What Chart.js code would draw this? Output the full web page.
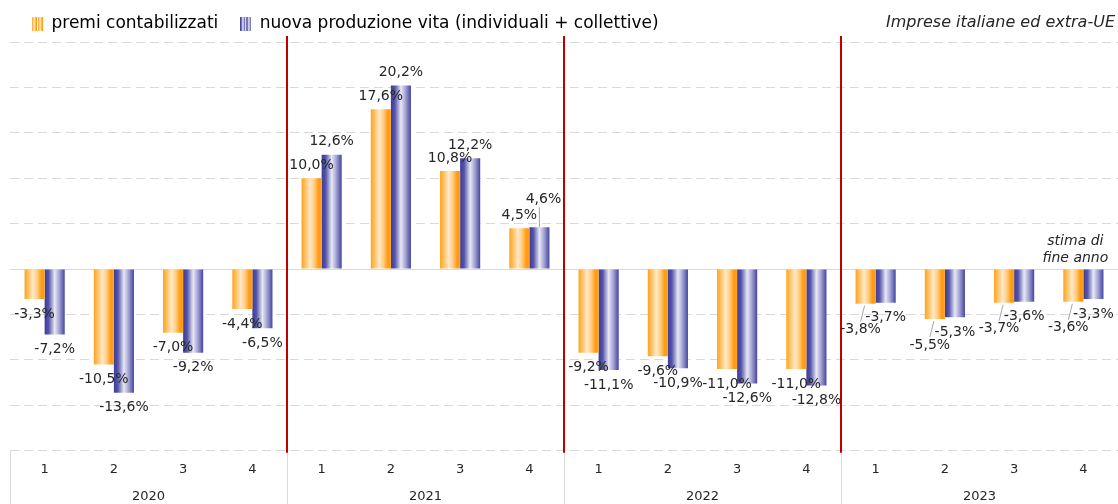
<!DOCTYPE html>
<html>
<head>
<meta charset="utf-8">
<script src="https://cdn.jsdelivr.net/npm/chart.js@4"></script>
<style>
  body { margin: 0; background: #fff; }
  #wrap { width: 1118px; height: 504px; position: relative; }
</style>
</head>
<body>
<div id="wrap"><canvas id="chart"></canvas></div>
<script>
const quarters = ['1', '2', '3', '4', '1', '2', '3', '4', '1', '2', '3', '4', '1', '2', '3', '4'];
const years = ['2020', '2021', '2022', '2023'];
const premi = [-3.3, -10.5, -7.0, -4.4, 10.0, 17.6, 10.8, 4.5, -9.2, -9.6, -11.0, -11.0, -3.8, -5.5, -3.7, -3.6];
const nuova = [-7.2, -13.6, -9.2, -6.5, 12.6, 20.2, 12.2, 4.6, -11.1, -10.9, -12.6, -12.8, -3.7, -5.3, -3.6, -3.3];

const catPct = 0.58;
const FONT = 'DejaVu Sans';
const orange = {
  base: '#ffa01e',
  stops: [[0, '#ffa31f'], [0.15, '#ffba52'], [0.42, '#ffe9c8'], [0.62, '#ffcf88'], [0.85, '#ff9a10'], [1, '#ffa01e']]
};
const blue = {
  base: '#40409c',
  stops: [[0, '#3c3c98'], [0.2, '#5454aa'], [0.5, '#e8e8f5'], [0.72, '#a6a6d4'], [1, '#4444a0']]
};

function barFill(ctx, col) {
  if (ctx.type !== 'data') return col.base;
  const chart = ctx.chart;
  const xs = chart.scales.x;
  if (!xs || !chart.chartArea) return col.base;
  const cw = xs.width / quarters.length;
  const gw = cw * catPct;
  const bw = gw / 2;
  const left = xs.getPixelForValue(ctx.dataIndex) - gw / 2 + ctx.datasetIndex * bw;
  const g = chart.ctx.createLinearGradient(left, 0, left + bw, 0);
  col.stops.forEach(([o, c]) => g.addColorStop(o, c));
  return g;
}

function legendIcon(col) {
  const c = document.createElement('canvas');
  c.width = 11; c.height = 14;
  const x = c.getContext('2d');
  const g = x.createLinearGradient(0, 0, 5, 0);
  col.stops.forEach(([o, cc]) => g.addColorStop(o, cc));
  x.fillStyle = g;
  x.fillRect(0, 0, 5, 14);
  x.translate(6, 0);
  x.fillRect(0, 0, 5, 14);
  return c;
}

const fmt = v => v.toFixed(1).replace('.', ',') + '%';

// red year separators, solid zero line and the separators under the axis
const framePlugin = {
  id: 'frame',
  beforeDatasetsDraw(chart) {
    const { ctx, chartArea, scales: { y } } = chart;
    const y0 = y.getPixelForValue(0);
    ctx.save();
    ctx.strokeStyle = '#d9d9d9';
    ctx.lineWidth = 1;
    ctx.beginPath();
    ctx.moveTo(chartArea.left, Math.round(y0) + 0.5);
    ctx.lineTo(chartArea.right, Math.round(y0) + 0.5);
    ctx.stroke();
    ctx.restore();
  },
  afterDatasetsDraw(chart) {
    const { ctx, chartArea, scales: { x } } = chart;
    ctx.save();
    const bounds = [chartArea.left];
    for (let i = 4; i < quarters.length; i += 4) {
      bounds.push((x.getPixelForValue(i - 1) + x.getPixelForValue(i)) / 2);
    }
    ctx.strokeStyle = '#d9d9d9';
    ctx.lineWidth = 1;
    bounds.forEach(b => {
      ctx.beginPath();
      ctx.moveTo(Math.round(b) + 0.5, chartArea.bottom);
      ctx.lineTo(Math.round(b) + 0.5, chart.height);
      ctx.stroke();
    });
    ctx.strokeStyle = '#c00000';
    ctx.lineWidth = 2;
    bounds.slice(1).forEach(b => {
      ctx.beginPath();
      ctx.moveTo(Math.round(b), chartArea.top - 6);
      ctx.lineTo(Math.round(b), chartArea.bottom + 2);
      ctx.stroke();
    });
    ctx.restore();
  }
};

// data labels, pushed apart with a leader line when the two of a quarter collide
const labelPlugin = {
  id: 'valueLabels',
  afterDatasetsDraw(chart) {
    const { ctx } = chart;
    const m0 = chart.getDatasetMeta(0).data;
    const m1 = chart.getDatasetMeta(1).data;
    const sets = [premi, nuova];
    ctx.save();
    ctx.font = '14px ' + FONT;
    ctx.fillStyle = '#262626';
    ctx.textAlign = 'center';
    ctx.textBaseline = 'middle';
    for (let i = 0; i < quarters.length; i++) {
      const bars = [m0[i], m1[i]];
      const pos = bars.map((b, d) => {
        const v = sets[d][i];
        return { x: b.x, y: v >= 0 ? b.y - 13 : b.y + 15, v, end: b.y, pushed: false };
      });
      if (Math.abs(pos[0].y - pos[1].y) < 11) {
        const d = Math.abs(pos[0].v) > Math.abs(pos[1].v) ? 0 : 1;
        const p = pos[d];
        p.y += p.v >= 0 ? -15 : 11;
        p.x += d === 0 ? -5 : 4;
        p.pushed = true;
      }
      pos.forEach(p => {
        if (p.pushed) {
          ctx.strokeStyle = '#a6a6a6';
          ctx.lineWidth = 1;
          ctx.beginPath();
          if (p.v >= 0) {
            ctx.moveTo(p.x - 4, p.end);
            ctx.lineTo(p.x - 4, p.y + 8);
          } else {
            ctx.moveTo(p.x + 4, p.end + 2);
            ctx.lineTo(p.x, p.y - 8);
          }
          ctx.stroke();
        }
        ctx.fillText(fmt(p.v), p.x, p.y);
      });
    }
    ctx.restore();
  }
};

const notesPlugin = {
  id: 'notes',
  afterDraw(chart) {
    const { ctx, scales: { x, y } } = chart;
    ctx.save();
    ctx.fillStyle = '#262626';
    ctx.textBaseline = 'middle';
    ctx.font = 'italic 16px ' + FONT;
    ctx.textAlign = 'right';
    ctx.fillText('Imprese italiane ed extra-UE', chart.width - 3, 23);
    ctx.font = 'italic 14px ' + FONT;
    ctx.textAlign = 'center';
    const cx = x.getPixelForValue(quarters.length - 1) - 8;
    const y0 = y.getPixelForValue(0);
    ctx.fillText('stima di', cx, y0 - 28);
    ctx.fillText('fine anno', cx, y0 - 11);
    ctx.restore();
  }
};

new Chart(document.getElementById('chart'), {
  type: 'bar',
  data: {
    labels: quarters,
    datasets: [
      {
        label: 'premi contabilizzati',
        data: premi,
        backgroundColor: ctx => barFill(ctx, orange),
        categoryPercentage: catPct,
        barPercentage: 1
      },
      {
        label: 'nuova produzione vita (individuali + collettive)',
        data: nuova,
        backgroundColor: ctx => barFill(ctx, blue),
        categoryPercentage: catPct,
        barPercentage: 1
      }
    ]
  },
  options: {
    responsive: true,
    maintainAspectRatio: false,
    animation: false,
    layout: { padding: { left: 10, right: 0, top: -7, bottom: 0 } },
    plugins: {
      tooltip: { enabled: false },
      legend: {
        position: 'top',
        align: 'start',
        labels: {
          font: { family: FONT, size: 17, lineHeight: 2.17 },
          color: '#1a1a33',
          padding: 22,
          boxWidth: 11,
          boxHeight: 14,
          usePointStyle: true,
          generateLabels: () => [
            { text: 'premi contabilizzati', pointStyle: legendIcon(orange), fillStyle: orange.base, strokeStyle: orange.base, lineWidth: 0, datasetIndex: 0 },
            { text: 'nuova produzione vita (individuali + collettive)', pointStyle: legendIcon(blue), fillStyle: blue.base, strokeStyle: blue.base, lineWidth: 0, datasetIndex: 1 }
          ]
        }
      }
    },
    scales: {
      x: {
        grid: { display: false, drawTicks: false },
        border: { display: false },
        ticks: { color: '#262626', font: { family: FONT, size: 13 }, padding: 11, maxRotation: 0, autoSkip: false }
      },
      x2: {
        type: 'category',
        labels: years,
        offset: true,
        position: 'bottom',
        grid: { display: false, drawTicks: false },
        border: { display: false },
        ticks: { color: '#262626', font: { family: FONT, size: 13 }, padding: 0, maxRotation: 0 }
      },
      y: {
        min: -20,
        max: 25,
        ticks: { display: false, stepSize: 5 },
        grid: { color: '#d9d9d9', drawTicks: false, lineWidth: 1 },
        border: { display: false, dash: [9, 5] }
      }
    }
  },
  plugins: [framePlugin, labelPlugin, notesPlugin]
});
</script>
</body>
</html>
